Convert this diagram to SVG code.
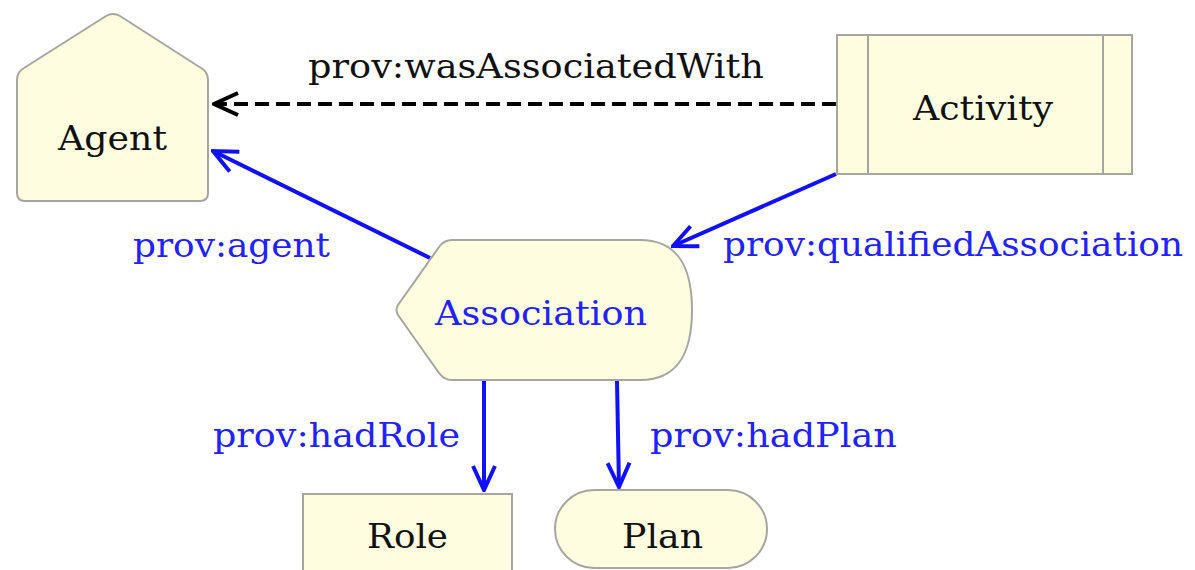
<svg xmlns="http://www.w3.org/2000/svg" width="1195" height="570" viewBox="0 0 1195 570">
  <style>
    .node { fill: #fffde0; stroke: #a6a6a0; stroke-width: 2; }
    .lbl { font-family: "DejaVu Serif", "Liberation Serif", serif; font-size: 34px; }
    .black { fill: #111111; }
    .blue { fill: #2222ff; }
    .edge { fill: none; stroke-width: 4; }
    .eb { stroke: #1010ff; }
    .ek { stroke: #000000; stroke-dasharray: 14 7; }
  </style>
  <defs>
    <marker id="arrBlue" markerUnits="userSpaceOnUse" viewBox="0 0 28 26" markerWidth="28" markerHeight="26" refX="26" refY="13" orient="auto">
      <path d="M2,2 L26,13 L2,24" fill="none" stroke="#1010ff" stroke-width="4"/>
    </marker>
    <marker id="arrBlack" markerUnits="userSpaceOnUse" viewBox="0 0 28 26" markerWidth="28" markerHeight="26" refX="26" refY="13" orient="auto">
      <path d="M2,2 L26,13 L2,24" fill="none" stroke="#000000" stroke-width="4"/>
    </marker>
  </defs>

  <g id="connectors">
    <line class="edge ek" x1="836" y1="104" x2="214" y2="104" marker-end="url(#arrBlack)"/>
    <line class="edge eb" x1="430" y1="258" x2="213" y2="151" marker-end="url(#arrBlue)"/>
    <line class="edge eb" x1="836" y1="174" x2="673" y2="246" marker-end="url(#arrBlue)"/>
    <line class="edge eb" x1="484" y1="381" x2="484" y2="490" marker-end="url(#arrBlue)"/>
    <line class="edge eb" x1="617" y1="381" x2="619" y2="487" marker-end="url(#arrBlue)"/>
    <text class="lbl black" x="308" y="78" textLength="456" lengthAdjust="spacingAndGlyphs">prov:wasAssociatedWith</text>
    <text class="lbl blue" x="133" y="257" textLength="197" lengthAdjust="spacingAndGlyphs">prov:agent</text>
    <text class="lbl blue" x="723" y="256" textLength="460" lengthAdjust="spacingAndGlyphs">prov:qualifiedAssociation</text>
    <text class="lbl blue" x="213" y="447" textLength="247" lengthAdjust="spacingAndGlyphs">prov:hadRole</text>
    <text class="lbl blue" x="650" y="447" textLength="247" lengthAdjust="spacingAndGlyphs">prov:hadPlan</text>
  </g>

  <g id="agent">
    <path class="node" d="M17,80 Q17,72 24,68 L106,16 Q113,12 120,16 L201,68 Q208,72 208,80 L208,193 Q208,201 200,201 L25,201 Q17,201 17,193 Z"/>
    <text class="lbl black" x="58" y="150" textLength="109" lengthAdjust="spacingAndGlyphs">Agent</text>
  </g>

  <g id="activity">
    <rect class="node" x="837" y="35" width="295" height="139"/>
    <line class="node" x1="868" y1="35" x2="868" y2="174"/>
    <line class="node" x1="1103" y1="35" x2="1103" y2="174"/>
    <text class="lbl black" x="913" y="120" textLength="140" lengthAdjust="spacingAndGlyphs">Activity</text>
  </g>

  <g id="association">
    <path class="node" d="M452,240 L640,240 C680,240 692,270 692,310 C692,350 680,380 640,380 L452,380 Q444,380 439,373 L398,315 Q395,310 398,305 L439,247 Q444,240 452,240 Z"/>
    <text class="lbl blue" x="435" y="325" textLength="212" lengthAdjust="spacingAndGlyphs">Association</text>
  </g>

  <g id="role">
    <rect class="node" x="303" y="494" width="209" height="90"/>
    <text class="lbl black" x="367" y="548" textLength="81" lengthAdjust="spacingAndGlyphs">Role</text>
  </g>

  <g id="plan">
    <rect class="node" x="555" y="490" width="212" height="78" rx="39" ry="39"/>
    <text class="lbl black" x="622" y="548" textLength="81" lengthAdjust="spacingAndGlyphs">Plan</text>
  </g>
</svg>
